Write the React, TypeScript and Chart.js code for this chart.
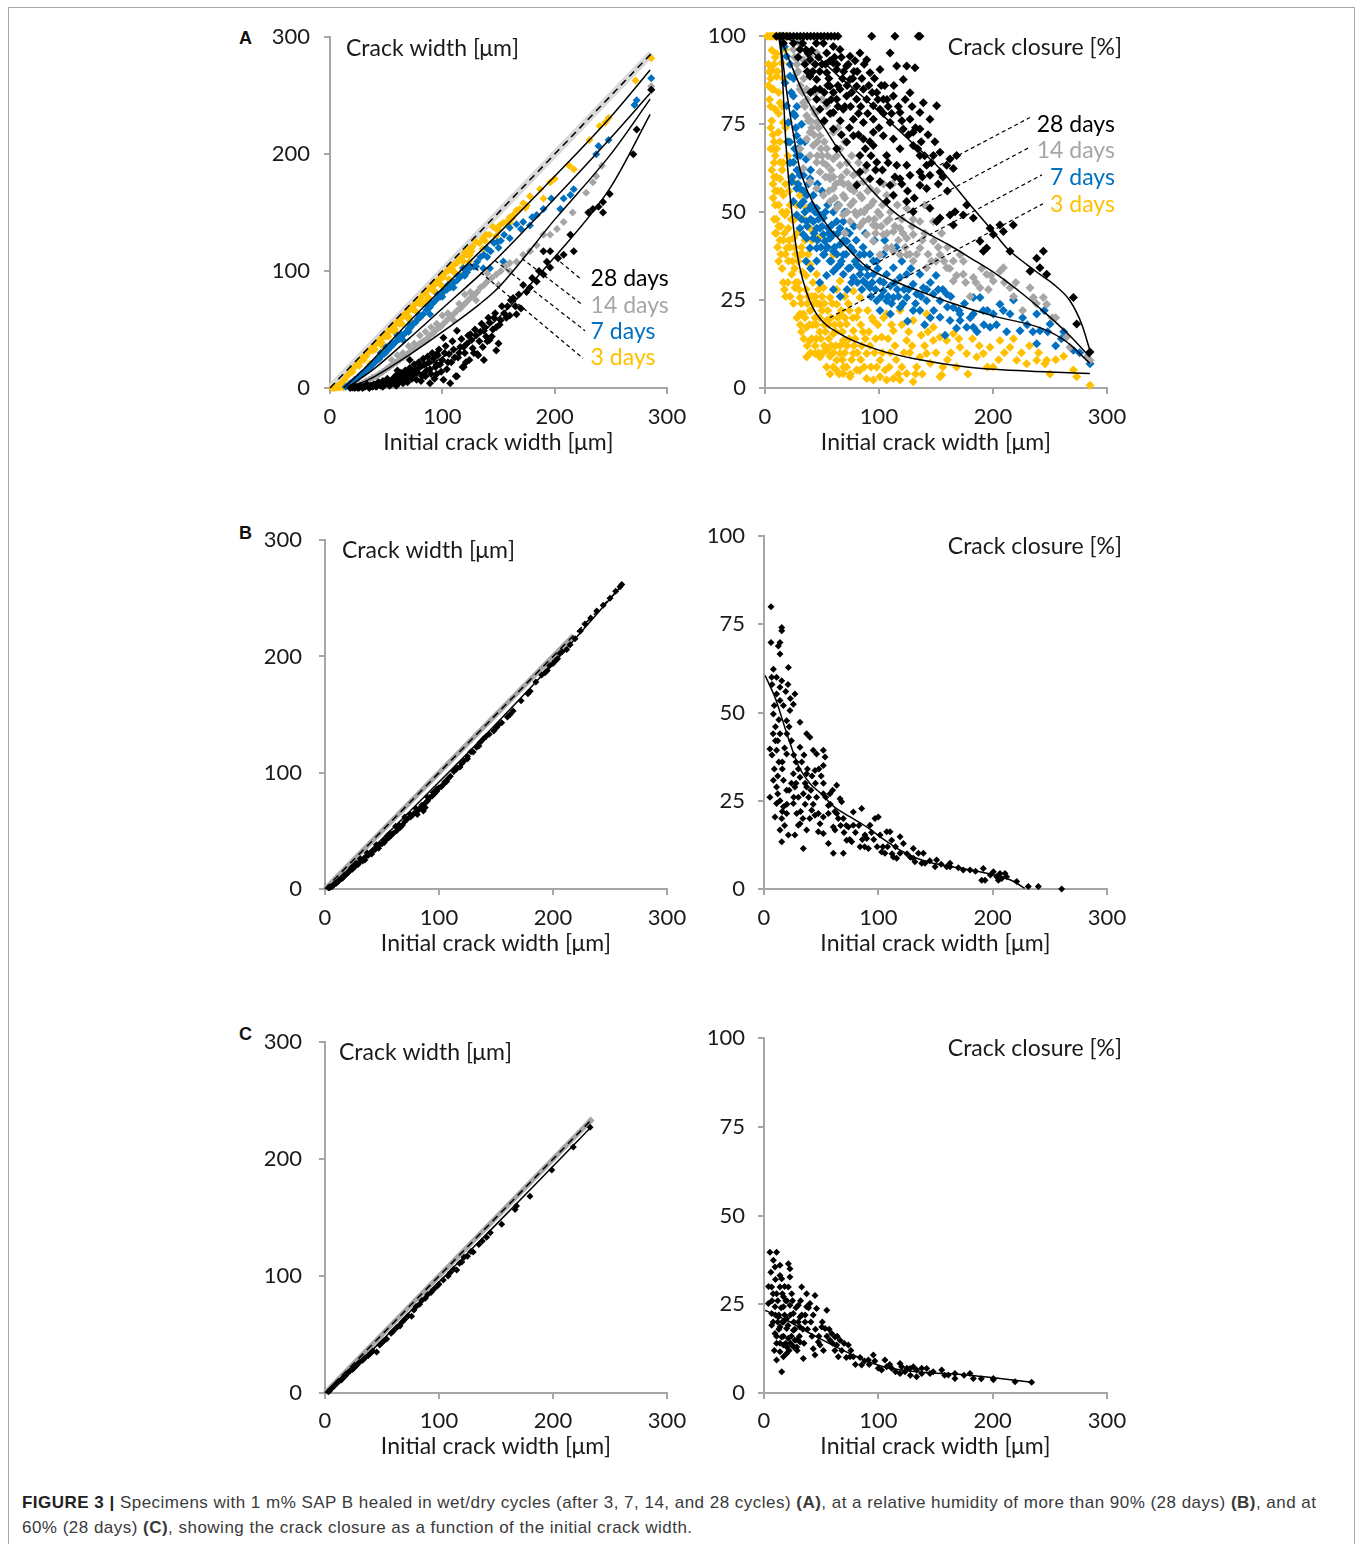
import React, { useEffect, useRef } from 'react';
import { Chart, registerables } from 'chart.js';

Chart.register(...registerables);

// ---------------- colours & fonts ----------------
const YELLOW = '#FFC000';
const BLUE = '#0070C0';
const GRAY = '#A6A6A6';
const LIGHT = '#D9D9D9';
const BLACK = '#000000';
const TEXT = '#1a1a1a';
const AXIS = '#a6a6a6';
const FONT = 'Lato, "Open Sans", sans-serif';
const TICK_SIZE = 22;
const LABEL_SIZE = 23;

// ---------------- labels ----------------
const X_TITLE = 'Initial crack width [μm]';
const WIDTH_TITLE = 'Crack width [μm]';
const CLOSURE_TITLE = 'Crack closure [%]';
const DAY_LABELS = ['28 days', '14 days', '7 days', '3 days'];
const DAY_COLORS = [BLACK, GRAY, BLUE, YELLOW];
const X_MAX = 300;
const X_STEP = 100;
const WIDTH_MAX = 300;
const WIDTH_STEP = 100;
const CLOSURE_MAX = 100;
const CLOSURE_STEP = 25;

// ---------------- Panel A: crack width (x, y pairs) ----------------
const AL_3D = [2,0, 4,0, 6,0.5, 8,0.5, 10,1, 12,0.5, 3,0.5, 5,1, 7,2, 9,3, 11,5, 13,7, 15,10, 17,12, 19,14, 21,17, 23,19, 25,21, 27,23, 29,26, 31,27, 33,30, 35,31, 37,34, 39,35, 41,38, 43,39, 45,42, 47,43, 49,46, 51,47, 53,50, 55,51, 57,54, 59,55, 61,58, 63,59, 65,62, 67,63, 69,66, 71,67, 73,69, 75,71, 77,73, 79,76, 81,77, 83,80, 85,81, 87,84, 89,85, 91,88, 93,88, 95,91, 97,92, 99,96, 101,95, 103,99, 105,100, 107,103, 109,102, 111,106, 113,107, 115,110, 118,112, 120,116, 122,114, 124,119, 127,121, 130,125, 133,124, 136,128, 139,131, 142,131, 145,138, 148,136, 151,139, 154,141, 157,142, 160,146, 163,148, 166,152, 169,153, 172,158, 175,156, 178,164, 187,170, 190,162, 196,176, 200,179, 213,190, 217,187, 231,212, 240,224, 245,227, 248,231, 272,263, 286,282, 118.7,108.2, 124.6,113.8, 103.9,85.6, 121.7,102.5, 115.7,96.9, 86.1,74.4, 71.2,57.5, 59.3,46.2, 47.5,34.9, 35.6,20.8, 20,14, 26,19, 32,27, 38,32, 44,38, 50,44, 56,49, 62,55, 68,61, 74,67, 80,72, 92,83, 98,89, 110,99, 126,117, 138,126, 150,135, 162,145, 174,154, 40,33, 52,44, 64,55, 76,66, 88,77, 100,87, 112,98, 124,108, 136,119, 148,130, 160,141, 30,24, 46,39, 58,50, 70,61, 82,72, 94,82, 106,93, 118,103];
const AL_7D = [14,1, 16,2, 18,4, 20,5, 22,7, 24,8, 26,10, 28,12, 30,13, 32,15, 34,17, 36,18, 38,20, 40,22, 42,24, 44,25, 46,28, 48,29, 50,31, 52,33, 54,35, 56,37, 58,39, 60,41, 62,42, 64,45, 66,46, 68,48, 70,51, 72,52, 74,55, 76,56, 78,59, 80,60, 83,63, 86,67, 89,69, 92,73, 95,76, 98,78, 101,82, 104,84, 107,86, 110,90, 113,92, 116,95, 119,97, 122,99, 125,103, 128,104, 131,108, 134,112, 137,114, 140,119, 143,117, 146,124, 149,125, 152,126, 155,131, 160,137, 166,140, 172,142, 178,139, 184,148, 190,153, 197,162, 205,153, 208,162, 214,165, 217,170, 237,200, 239,207, 248,212, 271,242, 273,246, 286,265, 136.5,102.5, 118.7,102.5, 142.4,102.5, 154.3,108.2, 89,63.1, 65.3,40.6, 45,30, 55,38, 63,46, 71,54, 79,62, 87,70, 96,80, 105,88, 114,96, 123,104, 50,35, 60,45, 70,48, 80,62, 90,72, 100,78, 110,86, 120,96, 130,104, 140,112, 150,120, 160,128, 170,136, 180,146];
const AL_14D = [20,1, 23,2, 26,3, 29,4, 32,6, 35,7, 38,9, 41,10, 44,12, 47,14, 50,16, 53,18, 56,20, 59,22, 62,24, 65,26, 68,28, 71,31, 74,33, 77,35, 80,38, 83,40, 86,42, 89,45, 92,47, 95,50, 98,52, 101,55, 104,58, 107,60, 110,63, 113,66, 116,68, 119,71, 122,74, 125,77, 128,79, 131,82, 134,86, 137,88, 140,91, 144,94, 148,97, 152,100, 156,104, 160,107, 166,108, 172,114, 178,117, 184,122, 190,131, 196,131, 202,136, 208,142, 216,150, 228,167, 234,176, 237,181, 242,190, 286,255, 286,258, 100,62, 110,58, 120,80, 130,75, 140,98, 150,88, 160,100, 90,52, 80,45, 70,36, 60,28, 55,24, 65,30, 75,38, 85,48, 95,55, 105,64, 115,72, 125,82];
const AL_28D = [18,0, 20,0.5, 22,0, 24,1, 26,0.5, 28,1, 30,1, 32,2, 34,1, 36,2, 38,1, 40,3, 42,2, 44,4, 46,3, 48,5, 50,4, 52,6, 54,3, 56,7, 58,5, 60,8, 62,6, 64,10, 66,7, 68,12, 70,9, 72,14, 74,11, 76,16, 78,13, 80,18, 82,10, 84,20, 86,15, 88,22, 90,12, 92,25, 94,18, 96,28, 98,20, 100,24, 102,30, 104,16, 106,29, 108,22, 110,33, 112,10, 114,26, 116,35, 118,18, 120,30, 122,38, 124,24, 126,41, 128,30, 130,45, 132,28, 134,48, 136,35, 138,52, 140,40, 142,56, 144,44, 146,60, 148,52, 150,38, 152,58, 155,64, 158,70, 160,62, 163,77, 166,63, 170,68, 172,88, 178,86, 184,91, 190,97, 196,103, 190,117, 196,117, 203,111, 208,114, 217,117, 214,131, 230,150, 234,153, 239,155, 243,159, 243,150, 249,166, 270,200, 273,221, 286,255, 107,4, 113,10, 119,18, 83,12, 89,4, 101,7, 95,12, 77,7, 65,4, 59,2, 53,2, 47,1, 60,15, 71,24, 95,29, 101,43, 119,35, 131,29, 137,24, 148,32, 125,46, 113,49, 142,41, 137,49, 21,1, 23,1, 25,0, 27,2, 29,0, 31,1, 33,3, 35,0, 37,2, 39,3, 41,1, 43,5, 45,2, 47,6, 49,3, 51,8, 53,5, 55,4, 57,9, 59,11, 61,4, 63,13, 65,9, 67,15, 69,5, 71,17, 73,8, 75,20, 77,14, 79,22, 81,6, 83,25, 85,10, 87,27, 89,16, 91,30, 93,8, 95,20, 97,33, 99,14, 103,36, 105,22, 109,40, 111,26, 115,30, 117,42, 121,22, 123,45, 127,34, 129,50, 133,40, 135,55, 139,44, 141,60, 145,50, 147,64, 151,54, 153,70, 157,60, 161,75, 165,70, 168,80, 175,82, 180,94, 186,100, 193,108];
const AL_DIAG = [0,0, 286,286];
const AL_FIT_3D = [12,0, 30,16, 50,36, 80,66, 100,85, 133.5,116.6, 150,132, 200,181, 250,232, 285,272];
const AL_FIT_7D = [15,0, 40,17, 70,42, 100,68, 133.5,97, 150,112, 200,162, 250,214, 285,252];
const AL_FIT_14D = [18,0, 40,10, 70,28, 100,48, 133.5,72, 150,86, 200,144, 250,200, 285,247];
const AL_FIT_28D = [25,0, 50,5, 80,16, 100,26, 133.5,46, 150,60, 200,112, 250,172, 285,234];
const AL_LEAD_28 = [200.3,111.5, 222.6,93.8];
const AL_LEAD_14 = [170.9,110.7, 224.1,71.6];
const AL_LEAD_7 = [146.9,109, 227,49];
const AL_LEAD_3 = [124.6,106.5, 225.2,25.4];

// ---------------- Panel A: crack closure ----------------
const AR_3D = [2,100, 4,100, 6,100, 8,100, 10,100, 12,100, 14,100, 16,100, 18,100, 20,100, 3,92, 4,90, 5,88, 6,85, 5,80, 6,76, 7,72, 7,68, 8,64, 8,60, 9,56, 9,52, 10,48, 10,44, 11,40, 12,36, 4.4,89.6, 5.8,90.5, 7.3,84.9, 8.8,79.2, 11.7,72.7, 10.2,68, 13.2,64.2, 13.2,59.5, 16.1,54.8, 17.5,49.2, 20.5,45.4, 19,39.8, 20.5,36.1, 23.4,32.3, 26.3,28.5, 30.7,25.7, 33.6,21, 36.5,17.3, 39.5,13.5, 43.9,9.8, 48.2,8.8, 36.5,8.8, 24.9,42.6, 30.7,37.9, 39.5,35.1, 45.3,32.3, 51.2,28.5, 57,25.7, 62.9,23.8, 48.2,23.8, 39.5,22, 30.7,21, 54.1,19.2, 65.8,21, 71.6,18.2, 59.9,15.4, 68.7,13.5, 77.5,16.3, 80.4,20.1, 83.3,25.7, 77.5,27.6, 65.8,30.4, 59.9,37.9, 54.1,39.8, 46.8,42.6, 39.5,45.4, 36.5,51.1, 30.7,54.8, 24.9,58.6, 21.9,64.2, 19,69.9, 16.1,75.5, 13.2,81.1, 10.2,88.6, 14.6,92.4, 17.5,96.2, 68.7,4.1, 74.6,3.2, 80.4,5.1, 89.2,2.7, 95,2.3, 100.9,3.2, 105.3,5.1, 112.6,2.7, 118.4,2.3, 124.3,4.1, 133,6, 135.9,8.8, 141.8,9.8, 147.7,13.5, 153.5,14.5, 159.4,13.5, 165.2,15.4, 171.1,11.6, 176.9,9.8, 185.7,8.8, 191.5,9.8, 197.4,11.6, 206.1,13.5, 214.9,11.6, 220.8,7.9, 229.5,6.9, 238.3,7.9, 247.1,7.9, 245.6,6.9, 270.5,5.1, 273.4,3.2, 285.1,0.8, 153.5,3.2, 155,3.7, 106.7,2.3, 130,1.8, 102.3,14.5, 95,19.2, 106.7,21, 118.4,22, 130,19.2, 141.8,21, 147.7,17.3, 112.6,16.3, 124.3,13.5, 89.2,9.8, 101,7.9, 77.5,9.8, 62.9,7.9, 54.1,10.7, 59.9,6, 71.6,6, 65.8,9.8, 15,62, 18,58, 22,52, 26,48, 28,44, 32,40, 35,42, 38,38, 42,30, 44,26, 47,28, 50,22, 52,18, 56,14, 58,20, 62,16, 66,12, 70,10, 74,14, 78,12, 84,8, 88,14, 92,12, 96,10, 98,6, 84,18, 90,22, 74,22, 70,26, 27,38, 33,33, 36,28, 41,26, 44,20, 48,16, 12,52, 14,46, 16,42, 22,40, 26,34, 29,30, 32,16, 40,10, 45,14, 52,12, 57,9, 63,5, 68,8, 75,4, 83,5, 87,6, 110,10, 115,8, 120,6, 108,14, 127,10, 138,4, 145,7, 120,18, 137,15, 160,8, 168,6, 182,14, 200,6, 210,10, 232,12, 250,4, 262,9, 34,48, 41,42, 28,52, 23,60, 20,66, 18,74, 15,80, 12,84, 16,88, 9,94, 21,56, 37,24, 6,96, 8,92, 10,95, 11,90, 12,78, 13,70, 14,56, 15,50, 16,64, 17,44, 18,38, 19,50, 20,30, 21,42, 22,26, 23,48, 24,36, 25,24, 26,40, 27,30, 28,20, 29,36, 30,28, 31,18, 32,24, 33,38, 34,14, 35,20, 36,32, 37,12, 38,26, 39,18, 40,22, 41,14, 42,18, 43,24, 44,12, 45,18, 46,24, 47,10, 48,20, 49,14, 50,26, 51,10, 52,24, 53,16, 54,6, 55,22, 56,18, 57,4, 58,12, 59,24, 60,10, 61,18, 62,12, 63,28, 64,20, 65,4, 66,18, 67,22, 68,16, 69,6, 70,20, 72,12, 73,24, 76,8, 77,20, 79,14, 81,10, 82,22, 85,12, 86,16, 91,16, 93,6, 94,20, 97,14, 99,18, 103,10, 104,20, 109,6, 111,18, 114,12, 117,4, 122,10, 126,16, 129,12, 132,4, 140,12, 143,16, 150,10, 156,6, 163,10, 170,14, 178,4, 188,12, 195,6, 205,8, 218,14, 225,10, 240,10, 255,8, 3,86, 4,82, 5,74, 5,68, 6,62, 7,58, 7,54, 8,48, 9,44, 8,70, 9,66, 10,60, 11,56, 12,46, 13,42, 14,38, 15,34, 16,30, 17,28, 18,26];
const AR_7D = [15,100, 17,97, 19,94.3, 21.9,88.6, 24.9,83, 26.3,77.4, 27.8,71.7, 30.7,66.1, 33.6,60.5, 30.7,56.7, 36.5,54.8, 39.5,51.1, 36.5,47.3, 42.4,47.3, 48.2,49.2, 45.3,45.4, 51.2,43.6, 57,42.6, 54.1,39.8, 59.9,38.9, 65.8,40.8, 71.6,41.7, 68.7,37.9, 77.5,38.9, 83.3,37.9, 80.4,35.1, 74.6,34.2, 65.8,35.1, 59.9,33.2, 89.2,34.2, 95,32.3, 100.9,30.4, 106.7,32.3, 112.6,34.2, 118.4,31.4, 124.3,32.3, 130,29.5, 135.9,32.3, 138.9,28.5, 147.7,26.7, 133,26.7, 124.3,25.7, 112.6,25.7, 106.7,24.8, 98,24.8, 100.9,22, 118.4,22.9, 130,22, 141.8,24.8, 153.5,24.8, 159.4,26.7, 165.2,22.9, 171.1,21, 182.8,21, 191.5,22, 188.6,25.7, 200.3,21, 206.1,23.8, 209.1,22, 214.9,21, 238.3,21, 241.2,16.3, 250,18.2, 270.5,10.7, 285.1,6.9, 238.3,12.6, 223.7,16.3, 182.8,17.3, 197.4,17.3, 171.1,19.2, 176.9,17.3, 162.3,19.2, 153.5,20.1, 135.9,22, 182.8,25.7, 103.8,27.6, 92.1,28.5, 86.3,30.4, 27.8,66.1, 30.7,60.5, 27.8,56.7, 33.6,53, 39.5,59.5, 42.4,54.8, 45.3,51.1, 48.2,45.4, 51.2,48.3, 55.6,45.4, 58.5,46.3, 59.9,43.6, 62.9,47.3, 65.8,45.4, 71.6,44.5, 68.7,47.3, 51.2,37.9, 45.3,39.8, 42.4,42.6, 33.6,43.6, 30.7,45.4, 27.8,49.2, 24.9,53, 23.4,58.6, 24.9,64.2, 21.9,69.9, 20.5,75.5, 19,80.2, 17.5,86.8, 52.6,41.7, 57,36.1, 62.9,34.2, 68.7,32.3, 77.5,31.4, 83.3,32.3, 89.2,29.5, 95,36.1, 45.3,36.1, 39.5,39.8, 36.5,42.6, 60,50, 55,52, 50,56, 46,58, 40,62, 36,65, 35,70, 32,75, 28,80, 25,88, 22,92, 74,44, 80,42, 86,40, 92,38, 98,36, 104,38, 110,29, 116,28, 122,28, 128,34, 145,30, 150,32, 156,28, 120,36, 115,40, 105,42, 96,42, 88,44, 78,46, 70,50, 64,52, 72,28, 66,26, 54,32, 48,30, 40,34, 36,36, 60,28, 145,20, 160,23, 175,24, 192,18, 218,25, 230,18, 245,22, 260,14, 276,10, 158,15, 168,17, 110,21, 125,19, 140,18, 262,16, 20,70, 22,64, 24,60, 26,68, 28,62, 29,58, 31,52, 32,48, 34,56, 35,50, 37,46, 38,58, 40,48, 41,52, 43,44, 44,50, 46,42, 47,48, 49,40, 50,46, 52,38, 53,50, 55,40, 56,44, 58,36, 61,40, 63,38, 64,44, 67,36, 69,42, 71,38, 73,34, 75,40, 76,30, 79,36, 81,30, 84,34, 85,28, 87,38, 90,32, 93,26, 94,30, 97,28, 99,34, 102,26, 104,30, 108,26, 111,24, 114,30, 117,26, 121,24, 126,28, 132,24, 137,26, 142,28, 148,22, 152,28, 163,26, 170,22, 180,20, 186,16, 195,22, 203,18, 212,16, 226,20, 235,16, 248,16, 255,12, 23,84, 25,78, 27,74, 29,68, 31,70];
const AR_14D = [20,100, 24.9,96.2, 30,98, 33.6,93.3, 39.5,94.3, 45.3,95.2, 27.8,89.6, 30.7,84.9, 33.6,81.1, 36.5,77.4, 39.5,72.7, 42.4,68.9, 39.5,66.1, 45.3,64.2, 48.2,61.4, 54.1,63.3, 57,59.5, 59.9,56.7, 65.8,58.6, 68.7,54.8, 74.6,56.7, 77.5,53, 83.3,54.8, 89.2,51.1, 95,53, 100.9,49.2, 106.7,47.3, 112.6,44.5, 118.4,45.4, 124.3,42.6, 130,43.6, 135.9,39.8, 124.3,37.9, 112.6,38.9, 103.8,43.6, 95,46.3, 86.3,47.3, 80.4,49.2, 74.6,47.3, 68.7,49.2, 62.9,51.1, 57,53, 51.2,54.8, 45.3,56.7, 39.5,58.6, 33.6,62.4, 30.7,68, 36.5,70.8, 45.3,75.5, 48.2,71.7, 54.1,68, 59.9,65.1, 65.8,63.3, 71.6,61.4, 77.5,60.5, 86.3,58.6, 92.1,56.7, 59.9,72.7, 51.2,75.5, 42.4,79.2, 54.1,80.2, 36.5,84.9, 39.5,89.6, 147.7,41.7, 153.5,37.9, 159.4,34.2, 165.2,36.1, 171.1,37.9, 173.9,32.3, 182.8,31.4, 188.6,28.5, 194.4,32.3, 200.3,30.4, 206.1,33.2, 209.1,34.2, 214.9,28.5, 232.5,28.5, 235.4,25.7, 247.1,23.8, 244.2,25.7, 267.5,11.6, 282.2,8.8, 285.1,7.9, 264.6,14.5, 141.8,34.2, 130,36.1, 118.4,37.9, 106.7,39.8, 95,41.7, 147.7,47.3, 135.9,47.3, 124.3,51.1, 106.7,54.8, 89.2,43.6, 100.9,37.9, 165.2,30.4, 34,88, 44,84, 50,82, 58,78, 64,74, 70,70, 76,66, 82,64, 88,62, 66,68, 72,64, 50,66, 56,60, 62,58, 46,70, 40,76, 28,92, 98,56, 104,58, 110,50, 116,52, 120,48, 130,48, 140,44, 150,36, 160,40, 176,30, 190,34, 220,30, 226,22, 252,20, 180,26, 196,28, 140,52, 155,44, 98,46, 84,50, 112,58, 70,44, 26,94, 29,90, 31,86, 33,84, 35,80, 37,82, 38,76, 41,74, 43,72, 44,78, 46,66, 47,74, 49,68, 51,64, 52,70, 53,60, 55,66, 56,56, 58,62, 60,60, 61,54, 63,66, 65,52, 67,60, 69,58, 70,54, 72,50, 73,58, 75,52, 78,56, 79,50, 81,58, 83,46, 85,54, 87,50, 90,56, 91,48, 93,52, 96,48, 97,44, 99,50, 102,46, 103,52, 107,44, 109,48, 111,40, 114,46, 117,42, 121,44, 123,40, 127,38, 129,46, 133,38, 138,42, 143,38, 146,36, 152,40, 157,36, 162,34, 168,32, 174,36, 185,30, 198,32, 210,30, 218,26, 238,24, 255,20];
const AR_28D = [10,100, 13,100, 16,100, 19,100, 22,100, 25,100, 28,100, 31,100, 34,100, 37,100, 40,100, 43,100, 46,100, 49,100, 52,100, 55,100, 58,100, 61,100, 64,100, 93.6,100, 114,100, 134.5,100, 135.9,100, 16.1,98, 51.2,98, 59.9,97.1, 54.1,95.2, 65.8,96.2, 74.6,94.3, 83.3,95.2, 89.2,93.3, 71.6,91.5, 62.9,90.5, 54.1,89.6, 45.3,87.7, 39.5,88.6, 48.2,84.9, 57,85.8, 65.8,84.9, 74.6,87.7, 80.4,85.8, 86.3,84.9, 92.1,89.6, 100.9,90.5, 109.7,95.2, 115.5,91.5, 124.3,91.5, 131.6,91, 121.3,87.7, 127.2,83.9, 112.6,83, 103.8,82.1, 95,80.2, 89.2,82.1, 80.4,82.1, 71.6,83, 62.9,82.1, 54.1,81.1, 45.3,82.1, 48.2,79.2, 59.9,78.3, 68.7,79.2, 77.5,76.4, 86.3,75.5, 95,76.4, 100.9,79.2, 109.7,75.5, 118.4,78.3, 127.2,76.4, 135.9,78.3, 138.9,81.1, 150.6,80.2, 144.7,76.4, 135.9,73.6, 130,72.7, 121.3,73.6, 112.6,70.8, 103.8,71.7, 95,72.7, 86.3,70.8, 77.5,71.7, 71.6,69.9, 62.9,68, 59.9,73.6, 83.3,66.1, 89.2,63.3, 95,68.9, 98,64.2, 106.7,66.1, 115.5,63.3, 118.4,68, 124.3,63.3, 130,68.9, 135.9,66.1, 141.8,63.3, 147.7,66.1, 153.5,67, 162.3,65.1, 168.1,66.1, 165.2,62.4, 159.4,63.3, 153.5,61.4, 144.7,60.5, 135.9,61.4, 127.2,60.5, 118.4,59.5, 109.7,57.6, 100.9,58.6, 92.1,59.5, 83.3,61.4, 80.4,57.6, 112.6,54.8, 135.9,57.6, 141.8,56.7, 150.6,47.3, 153.5,48.3, 162.3,49.2, 166.7,50.1, 165.2,46.3, 173.9,49.2, 176.9,52, 182.8,48.3, 188.6,41.7, 191.5,38.9, 194.4,39.8, 197.4,45.4, 200.3,43.6, 206.1,46.3, 209.1,44.5, 214.9,38.9, 217.8,46.3, 232.5,33.2, 238.3,36.9, 244.2,38.9, 241.2,34.2, 247.1,32.3, 270.5,25.7, 273.4,18.2, 285.1,10.2, 130,50.1, 144.7,51.1, 124.3,53, 106.7,53, 59.9,92.4, 30.7,96.2, 39.5,93.3, 24.9,98, 35,92, 42,90, 50,92, 56,88, 68,88, 78,90, 64,86, 70,80, 76,84, 84,80, 90,78, 98,84, 105,86, 52,84, 44,85, 58,82, 66,76, 74,74, 82,72, 92,70, 100,74, 108,80, 36,96, 45,98, 33,98, 38,95, 41,96, 47,94, 53,92, 57,93, 61,94, 63,92, 67,94, 69,90, 72,86, 73,92, 77,88, 79,93, 81,90, 85,88, 87,92, 91,86, 94,84, 96,88, 99,82, 102,86, 104,78, 107,82, 111,78, 113,86, 117,80, 120,76, 123,82, 126,72, 129,80, 132,74, 134,68, 137,70, 140,66, 143,72, 146,64, 149,70, 152,58, 156,60, 160,56, 64,80, 57,78, 52,76, 60,84, 67,72, 75,80, 82,78, 88,68, 93,66, 97,62, 103,62, 108,64, 114,60, 120,58, 125,56, 131,54, 138,60, 55,86, 48,90, 40,84, 44,92, 37,90, 29,94];
const AR_FIT_3D = [12,100, 14.6,93, 16.1,83.5, 17.5,74.1, 20,62, 24.9,45.9, 30,35, 36.6,27.1, 45.3,21, 65.8,15.4, 100.9,10.7, 130,8.4, 176.9,6, 230,4.8, 285,4.1];
const AR_FIT_7D = [13,100, 16,92, 20,82, 25,72, 30,63, 36,57, 45,51, 55,46, 68.7,41, 89,34.5, 112.5,30.5, 140,27, 162.3,24.3, 200,20.5, 244,16.8, 265,13, 285,7];
const AR_FIT_14D = [14,100, 18,96, 24,91, 32,85, 42,79, 54,73, 68,66, 83.3,60, 100,54, 118.4,48.7, 144.7,43.6, 162.3,40.5, 180,37, 203.2,32.3, 225,27, 247,21, 267,15, 285,8.8];
const AR_FIT_28D = [15,100, 22,99, 33.4,97.6, 50,93, 65,88.5, 83.3,83.5, 105,77, 127.2,70.3, 153.5,62.3, 170,56, 182.7,51, 200,44.5, 212,39.8, 230,35, 241.2,32.3, 255,29, 267.5,24.8, 278,18, 285,10.7];
const AR_LEAD_28 = [153.5,63.4, 232.5,76.9];
const AR_LEAD_14 = [114,47.9, 232.5,68.5];
const AR_LEAD_7 = [89.5,34.1, 243,60.6];
const AR_LEAD_3 = [57,20, 243.9,52.4];

// ---------------- Panel B ----------------
const BL_POINTS = [258.8,260, 260.3,262, 238.3,239, 228,228, 219.3,215.3, 206,202.5, 200,194, 190,184, 180,170, 162.3,150, 150.6,139, 138.9,129, 130,117.8, 118.4,105, 106.7,92.4, 98,84, 92,78.8, 86.3,67, 74.6,64, 62.9,50, 51.2,41.8, 255,256, 250,250, 244,244, 233,233, 224,222, 215,210, 212,206, 208,204, 204,198, 202,196, 197,192, 195,188, 193,186, 185,178, 178,168, 172,162, 165,153, 160,148, 155,143, 152,141, 148,136, 144,133, 141,131, 136,126, 133,122, 128,118, 125,114, 122,110, 120,108, 116,104, 113,101, 110,97, 108,95, 104,90, 102,88, 100,87, 96,82, 94,80, 90,76, 88,74, 84,70, 82,68, 80,66, 78,65, 76,63, 72,60, 70,58, 68,55, 66,53, 64,52, 60,48, 58,46, 56,44, 54,43, 52,40, 50,39, 48,38, 46,36, 44,34, 42,33, 40,31, 38,29, 36,28, 34,26, 33,24, 32,25, 30,23, 29,21, 28,22, 26,19, 25,20, 24,17, 22,16, 21,15, 20,14, 19,13, 18,12, 17,12, 16,10, 15,9, 14,9, 13,8, 12,7, 11,6, 10,5, 9,5, 8,4, 7,3, 6,2, 5,2, 4,1, 3,1, 45,38, 55,46, 65,55, 75,62, 85,72, 95,83, 105,92, 115,103, 125,112, 135,123, 57,48, 62,54, 70,62, 80,69, 90,79, 98,86, 37,31, 31,26, 27,22, 23,18, 35,25, 41,30, 47,35, 53,42, 88,70, 81,64];
const BL_INITIAL = [0,0, 218,218];
const BL_DIAG = [0,0, 262,262];
const BL_FIT = [4,0, 20,15, 50,43, 100,92, 150,142, 200,194, 262,263];

const BR_POINTS = [6.1,80, 6.1,69.9, 14,69.9, 15.5,74.1, 15.5,73.2, 14,66.6, 12.5,68.9, 21.3,62.8, 8.2,62.3, 11,60, 15.5,59, 14,57.2, 6.7,60, 11,55.3, 14,53.4, 8.2,49.6, 27,55.3, 25.7,52.4, 22.7,50.6, 19.8,47.7, 31.5,47.3, 14,44, 5.2,39.7, 11,39.3, 19.8,38.3, 31.5,40.2, 37.3,44, 40.2,43, 43.1,39.3, 46,38.3, 51.9,39.3, 53.4,37.4, 51.9,35, 44.6,33.6, 37.3,32.7, 31.5,31.7, 25.7,32.7, 17,30.8, 8.2,30.8, 11,28.9, 19.8,28, 27,28.9, 34.4,27, 37.3,28.9, 5.2,26, 11,24.2, 17,23.3, 25.7,24.2, 28.6,21.4, 31.5,18.5, 19.8,21.4, 9.6,20.4, 15.5,20, 14,16.7, 15.5,13.4, 21.3,15.3, 27,15.3, 30,18.1, 37.3,16.7, 34.4,11.5, 41.7,22.3, 44.6,20.9, 47.5,21.4, 49,18.5, 47.5,16.2, 51.9,15.7, 51.9,20.4, 56.3,23.7, 56.3,21.4, 51.9,27, 57.7,27, 63.6,29.4, 66.5,25.6, 67.9,24.7, 63.6,21.4, 60.6,17.6, 62.1,16.7, 56.3,12.9, 60.6,10.1, 69.4,10.1, 69.4,20, 73.8,17.6, 78.1,18.1, 78.1,21.8, 72.3,13.8, 76.7,13.4, 84,12, 85.4,22.8, 88.3,15.3, 89.8,14.3, 91.3,11.5, 92.7,18.1, 97.1,20, 100,20.4, 101.5,15.3, 102.9,10.5, 105.8,10.1, 107.3,16.2, 110.2,16.2, 111.7,13.8, 113.1,9.1, 116,8.7, 119,14.8, 121.9,12.9, 119,10.1, 130.6,11.5, 130.6,8.7, 132,7.7, 135,10.1, 137.9,7.3, 139.4,10.1, 140.8,7.3, 151,8.2, 149.6,6.3, 159.8,6.3, 162.7,7.3, 162.7,6.3, 174.3,5.4, 180.2,5.4, 191.8,5.8, 190.4,2.5, 193.3,2.5, 200.6,4.9, 203.5,3.5, 206.4,4.4, 205,2.5, 207.9,3, 210.8,4.4, 212.2,3.5, 221,2.1, 231.2,0.7, 240,0.7, 260.3,0, 7,58, 9,52, 10,46, 12,42, 13,36, 16,34, 18,40, 20,44, 22,46, 24,42, 26,38, 28,36, 30,34, 33,36, 35,38, 36,30, 38,34, 39,26, 41,28, 42,32, 45,30, 48,34, 50,32, 52,30, 54,26, 58,24, 60,28, 62,22, 65,20, 67,18, 70,16, 72,18, 75,14, 80,16, 83,18, 86,14, 88,12, 94,16, 96,14, 99,12, 104,12, 108,12, 112,10, 115,12, 125,10, 128,9, 145,8, 155,7, 170,6, 185,5, 198,4, 8,44, 12,27, 14,25, 16,22, 18,18, 20,24, 22,28, 24,30, 26,26, 28,30, 30,26, 32,22, 34,20, 36,24, 40,20, 43,24, 46,26, 13,48, 17,52, 19,56, 21,58, 23,54, 9,34, 7,38, 10,42, 12,32, 16,36];
const BR_FIT = [1,60.5, 10,54, 20,44, 30,35, 40,30, 50,27, 60.6,23.5, 75,20.5, 89.8,17.6, 105,14, 119,11, 133,8.8, 148,7.3, 177,5.6, 206,3.6, 218,2.2, 228,0.2];

// ---------------- Panel C ----------------
const CL_POINTS = [232.5,227.3, 217.8,210.4, 198.9,190.7, 179.8,168.3, 166.7,157, 155,144.4, 141.8,133.1, 130,120.5, 115.5,105.1, 103.8,96.7, 95,88.2, 76,65.7, 65.8,57.3, 54.1,46.1, 45.3,35, 168,160, 145,137, 138,130, 125,117, 120,112, 110,103, 100,93, 90,84, 85,79, 80,74, 70,63, 60,53, 50,43, 42,36, 38,32, 35,30, 30,26, 28,24, 25,21, 22,19, 20,17, 18,15, 15,12, 12,10, 10,8, 8,6, 6,4, 4,2, 3,1, 135,127, 128,121, 122,116, 118,111, 113,106, 108,100, 98,91, 93,86, 88,81, 83,76, 78,71, 73,66, 68,61, 63,56, 58,51, 52,45, 48,41, 40,34, 33,28, 27,23, 24,20, 17,14, 14,11];
const CL_INITIAL = [0,0, 233,233];
const CL_DIAG = [0,0, 233,233];
const CL_FIT = [3,0, 25,21, 50,45, 100,95, 150,144, 200,194, 233,227];

const CR_POINTS = [5.2,39.7, 11,39.7, 8.2,37.4, 9.6,35.5, 14,33.1, 15.5,32.2, 21.3,36.4, 22.7,35, 22.7,32.7, 21.3,29.9, 14,29.9, 6.7,29.9, 11,28, 17,27.1, 24.2,28, 32.9,29.9, 37.3,28, 44.6,27.5, 46,23.8, 40.2,25.2, 37.3,24.3, 30,24.7, 22.7,24.7, 17,24.3, 9.6,24.3, 3.8,25.2, 6.7,22.4, 12.5,21.4, 19.8,21, 25.7,22.4, 31.5,21.4, 35.9,20, 31.5,18.6, 25.7,17.7, 19.8,18.2, 14,18.6, 6.7,19.1, 9.6,16.8, 15.5,15.8, 21.3,15.4, 27,14.9, 31.5,14.4, 11,14, 17,13.5, 24.2,13.5, 28.6,13, 14,11.6, 19.8,11.1, 11,9.3, 17,10.2, 15.5,6, 34.4,9.7, 43.1,12.5, 44.6,10.7, 47.5,14.4, 49,13.5, 53.4,18.2, 54.9,23.3, 50.5,18.6, 59.2,16.8, 57.7,14.9, 62.1,15.8, 63.6,13.5, 65,10.2, 66.5,14.9, 73.8,13.5, 75.2,10.2, 78.1,10.2, 85.4,7.9, 91.3,9.3, 95.6,10.7, 102.9,6.5, 105.8,9.3, 107.3,7.4, 111.7,7, 119,8.3, 120.4,7.4, 119,5.5, 123.3,6, 127.7,6.9, 130.6,7.4, 133.5,6.5, 133.5,4.6, 137.9,5.5, 142.3,6.9, 145.2,5.5, 155.4,6.5, 161.2,5.1, 167,5.5, 167,4.1, 180.2,5.5, 183.1,4.1, 200.6,4.1, 200.6,3.7, 219.6,3.2, 234.1,3, 4,30, 6,34, 7,26, 8,28, 10,32, 12,26, 13,22, 14,36, 16,28, 16,20, 18,30, 18,22, 19,14, 20,26, 21,19, 22,12, 23,22, 24,16, 25,26, 26,20, 27,18, 28,24, 29,12, 30,20, 31,16, 32,26, 33,22, 34,18, 35,14, 36,22, 38,18, 39,24, 41,20, 42,16, 43,22, 45,18, 48,16, 51,20, 52,12, 55,16, 57,18, 60,14, 62,12, 64,16, 68,12, 70,14, 72,10, 76,12, 80,8, 84,10, 88,9, 92,8, 97,9, 100,7, 110,8, 115,6, 125,7, 128,5, 138,7, 148,6, 158,5, 175,5, 190,4, 9,12, 11,16, 13,18, 15,24, 17,20, 19,26, 8,20, 10,22, 12,20, 14,14, 17,16, 20,13, 23,14, 26,13, 29,15];
const CR_FIT = [1,23.3, 19.8,20.5, 46,15.8, 75.2,11.1, 104.4,7.4, 133.5,6, 177.3,5.1, 206.4,4.1, 234.1,3];

// ---------------- helpers ----------------
function toPts(flat: number[]) {
  const out: { x: number; y: number }[] = [];
  for (let i = 0; i + 1 < flat.length; i += 2) out.push({ x: flat[i], y: flat[i + 1] });
  return out;
}

function scatter(flat: number[], color: string, radius: number, order: number) {
  return {
    type: 'scatter',
    data: toPts(flat),
    pointStyle: 'rectRot',
    pointRadius: radius,
    pointHoverRadius: radius,
    backgroundColor: color,
    borderColor: color,
    borderWidth: 0,
    clip: false,
    order,
  };
}

function line(flat: number[], color: string, width: number, dash: number[], order: number, smooth = true) {
  return {
    type: 'line',
    data: toPts(flat),
    borderColor: color,
    backgroundColor: color,
    borderWidth: width,
    borderDash: dash,
    pointRadius: 0,
    fill: false,
    showLine: true,
    cubicInterpolationMode: smooth ? 'monotone' : 'default',
    tension: 0,
    clip: false,
    order,
  };
}

type TextItem = { text: string; x: number; y: number; color: string; align: CanvasTextAlign; anchor: 'data' | 'left' | 'right' };

function textPlugin(items: TextItem[]) {
  return {
    id: 'panelTexts',
    afterDatasetsDraw(chart: any) {
      const { ctx, chartArea, scales } = chart;
      ctx.save();
      ctx.font = `${LABEL_SIZE}px ${FONT}`;
      ctx.textBaseline = 'alphabetic';
      for (const it of items) {
        let px: number;
        let py: number;
        if (it.anchor === 'data') {
          px = scales.x.getPixelForValue(it.x);
          py = scales.y.getPixelForValue(it.y);
        } else if (it.anchor === 'left') {
          px = chartArea.left + it.x;
          py = chartArea.top + it.y;
        } else {
          px = chartArea.right + it.x;
          py = chartArea.top + it.y;
        }
        ctx.fillStyle = it.color;
        ctx.textAlign = it.align;
        ctx.fillText(it.text, px, py);
      }
      ctx.restore();
    },
  };
}

type Spec = {
  left: number; top: number; w: number; h: number;
  plot: { l: number; t: number; r: number; b: number };
  yMax: number; yStep: number;
  yTickPad: number; xTickPad: number; xTitlePad: number;
  datasets: any[]; texts: TextItem[];
};

function makeConfig(s: Spec) {
  const yWidth = s.plot.l - s.left;
  const xHeight = s.top + s.h - s.plot.b;
  const tickFont = { family: FONT, size: TICK_SIZE };
  const titleFont = { family: FONT, size: LABEL_SIZE };
  const grid = { drawOnChartArea: false, drawTicks: true, tickLength: 6, color: AXIS, lineWidth: 2 };
  const border = { display: true, color: AXIS, width: 2 };
  return {
    type: 'scatter',
    data: { datasets: s.datasets },
    options: {
      animation: false,
      responsive: false,
      devicePixelRatio: 1,
      events: [],
      layout: { padding: { left: 0, top: s.plot.t - s.top, right: s.left + s.w - s.plot.r, bottom: 0 } },
      plugins: { legend: { display: false }, tooltip: { enabled: false }, title: { display: false } },
      scales: {
        x: {
          type: 'linear', position: 'bottom', min: 0, max: X_MAX,
          ticks: { stepSize: X_STEP, color: TEXT, font: tickFont, padding: s.xTickPad, maxRotation: 0, autoSkip: false },
          grid, border,
          title: { display: true, text: X_TITLE, color: TEXT, font: titleFont, padding: { top: 0, bottom: s.xTitlePad } },
          afterFit: (sc: any) => { sc.height = xHeight; },
        },
        y: {
          type: 'linear', position: 'left', min: 0, max: s.yMax,
          ticks: { stepSize: s.yStep, color: TEXT, font: tickFont, padding: s.yTickPad, autoSkip: false },
          grid, border,
          afterFit: (sc: any) => { sc.width = yWidth; },
        },
      },
    },
    plugins: [textPlugin(s.texts)],
  };
}

function Panel({ spec }: { spec: Spec }) {
  const ref = useRef<HTMLCanvasElement | null>(null);
  useEffect(() => {
    if (!ref.current) return;
    const chart = new Chart(ref.current, makeConfig(spec) as any);
    return () => chart.destroy();
  }, []);
  return (
    <canvas
      ref={ref}
      width={spec.w}
      height={spec.h}
      style={{ position: 'absolute', left: spec.left, top: spec.top, width: spec.w, height: spec.h }}
    />
  );
}

// ---------------- panel specs ----------------
const LEADER_DASH = [4, 3];

const panelALeft: Spec = {
  left: 230, top: 10, w: 470, h: 460,
  plot: { l: 330, t: 33, r: 667, b: 388 },
  yMax: WIDTH_MAX, yStep: WIDTH_STEP, yTickPad: 14, xTickPad: 9.5, xTitlePad: 14,
  datasets: [
    line(AL_DIAG, LIGHT, 7, [], 20, false),
    scatter(AL_3D, YELLOW, 4, 14),
    scatter(AL_7D, BLUE, 4, 13),
    scatter(AL_14D, GRAY, 4, 12),
    scatter(AL_28D, BLACK, 4, 11),
    line(AL_DIAG, BLACK, 1.5, [7, 5], 1, false),
    line(AL_FIT_3D, BLACK, 1.5, [], 2),
    line(AL_FIT_7D, BLACK, 1.5, [], 2),
    line(AL_FIT_14D, BLACK, 1.5, [], 2),
    line(AL_FIT_28D, BLACK, 1.5, [], 2),
    line(AL_LEAD_28, BLACK, 1.2, LEADER_DASH, 1, false),
    line(AL_LEAD_14, BLACK, 1.2, LEADER_DASH, 1, false),
    line(AL_LEAD_7, BLACK, 1.2, LEADER_DASH, 1, false),
    line(AL_LEAD_3, BLACK, 1.2, LEADER_DASH, 1, false),
  ],
  texts: [
    { text: WIDTH_TITLE, x: 16, y: 18.5, color: TEXT, align: 'left', anchor: 'left' },
    { text: DAY_LABELS[0], x: 232, y: 87, color: DAY_COLORS[0], align: 'left', anchor: 'data' },
    { text: DAY_LABELS[1], x: 232, y: 64.5, color: DAY_COLORS[1], align: 'left', anchor: 'data' },
    { text: DAY_LABELS[2], x: 232, y: 42, color: DAY_COLORS[2], align: 'left', anchor: 'data' },
    { text: DAY_LABELS[3], x: 232, y: 19.4, color: DAY_COLORS[3], align: 'left', anchor: 'data' },
  ],
};

const panelARight: Spec = {
  left: 700, top: 10, w: 440, h: 460,
  plot: { l: 765, t: 33, r: 1107, b: 388 },
  yMax: CLOSURE_MAX, yStep: CLOSURE_STEP, yTickPad: 13, xTickPad: 9.5, xTitlePad: 14,
  datasets: [
    scatter(AR_3D, YELLOW, 4.5, 14),
    scatter(AR_7D, BLUE, 4.5, 13),
    scatter(AR_14D, GRAY, 4.5, 12),
    scatter(AR_28D, BLACK, 4.5, 11),
    line(AR_FIT_3D, BLACK, 1.5, [], 2),
    line(AR_FIT_7D, BLACK, 1.5, [], 2),
    line(AR_FIT_14D, BLACK, 1.5, [], 2),
    line(AR_FIT_28D, BLACK, 1.5, [], 2),
    line(AR_LEAD_28, BLACK, 1.2, LEADER_DASH, 1, false),
    line(AR_LEAD_14, BLACK, 1.2, LEADER_DASH, 1, false),
    line(AR_LEAD_7, BLACK, 1.2, LEADER_DASH, 1, false),
    line(AR_LEAD_3, BLACK, 1.2, LEADER_DASH, 1, false),
  ],
  texts: [
    { text: CLOSURE_TITLE, x: 15, y: 18.5, color: TEXT, align: 'right', anchor: 'right' },
    { text: DAY_LABELS[0], x: 307, y: 72.9, color: DAY_COLORS[0], align: 'right', anchor: 'data' },
    { text: DAY_LABELS[1], x: 307, y: 65.4, color: DAY_COLORS[1], align: 'right', anchor: 'data' },
    { text: DAY_LABELS[2], x: 307, y: 57.7, color: DAY_COLORS[2], align: 'right', anchor: 'data' },
    { text: DAY_LABELS[3], x: 307, y: 50.1, color: DAY_COLORS[3], align: 'right', anchor: 'data' },
  ],
};

const panelBLeft: Spec = {
  left: 230, top: 510, w: 470, h: 460,
  plot: { l: 325, t: 535, r: 667, b: 889 },
  yMax: WIDTH_MAX, yStep: WIDTH_STEP, yTickPad: 17, xTickPad: 9.5, xTitlePad: 13,
  datasets: [
    line(BL_INITIAL, GRAY, 5, [], 20, false),
    scatter(BL_POINTS, BLACK, 3.5, 11),
    line(BL_DIAG, BLACK, 1.5, [7, 5], 1, false),
    line(BL_FIT, BLACK, 1.5, [], 2),
  ],
  texts: [{ text: WIDTH_TITLE, x: 17, y: 17.5, color: TEXT, align: 'left', anchor: 'left' }],
};

const panelBRight: Spec = {
  left: 700, top: 510, w: 440, h: 460,
  plot: { l: 764, t: 535, r: 1107, b: 889 },
  yMax: CLOSURE_MAX, yStep: CLOSURE_STEP, yTickPad: 13, xTickPad: 9.5, xTitlePad: 13,
  datasets: [
    scatter(BR_POINTS, BLACK, 3.5, 11),
    line(BR_FIT, BLACK, 1.5, [], 2),
  ],
  texts: [{ text: CLOSURE_TITLE, x: 15, y: 17.5, color: TEXT, align: 'right', anchor: 'right' }],
};

const panelCLeft: Spec = {
  left: 230, top: 1012, w: 470, h: 460,
  plot: { l: 325, t: 1037, r: 667, b: 1393 },
  yMax: WIDTH_MAX, yStep: WIDTH_STEP, yTickPad: 17, xTickPad: 8.5, xTitlePad: 12,
  datasets: [
    line(CL_INITIAL, GRAY, 5, [], 20, false),
    scatter(CL_INITIAL.slice(2), GRAY, 4, 19),
    scatter(CL_POINTS, BLACK, 3.5, 11),
    line(CL_DIAG, BLACK, 1.5, [7, 5], 1, false),
    line(CL_FIT, BLACK, 1.5, [], 2),
  ],
  texts: [{ text: WIDTH_TITLE, x: 14, y: 18, color: TEXT, align: 'left', anchor: 'left' }],
};

const panelCRight: Spec = {
  left: 700, top: 1012, w: 440, h: 460,
  plot: { l: 764, t: 1037, r: 1107, b: 1393 },
  yMax: CLOSURE_MAX, yStep: CLOSURE_STEP, yTickPad: 13, xTickPad: 8.5, xTitlePad: 12,
  datasets: [
    scatter(CR_POINTS, BLACK, 3.5, 11),
    line(CR_FIT, BLACK, 1.5, [], 2),
  ],
  texts: [{ text: CLOSURE_TITLE, x: 15, y: 17.5, color: TEXT, align: 'right', anchor: 'right' }],
};

const PANELS = [panelALeft, panelARight, panelBLeft, panelBRight, panelCLeft, panelCRight];
const PANEL_LETTERS = [
  { letter: 'A', top: 27 },
  { letter: 'B', top: 522 },
  { letter: 'C', top: 1023 },
];

export default function App() {
  return (
    <div style={{ position: 'absolute', left: 0, top: 0, width: 1360, height: 1544, overflow: 'hidden', background: '#ffffff' }}>
      <div style={{ position: 'absolute', left: 8, top: 7, width: 1347, height: 1600, border: '1px solid #a8a8a8', boxSizing: 'border-box' }} />
      {PANEL_LETTERS.map((p) => (
        <div
          key={p.letter}
          style={{ position: 'absolute', left: 239, top: p.top, font: 'bold 18px "Liberation Sans", Arial, sans-serif', color: '#111', lineHeight: '22px' }}
        >
          {p.letter}
        </div>
      ))}
      {PANELS.map((s, i) => (
        <Panel key={i} spec={s} />
      ))}
      <div
        style={{
          position: 'absolute', left: 22, top: 1490, width: 1330,
          font: '17px "Liberation Sans", Arial, sans-serif', letterSpacing: '0.48px', lineHeight: '25px', color: '#3a3a3a', whiteSpace: 'nowrap',
        }}
      >
        <div>
          <b style={{ color: '#222' }}>FIGURE 3 |</b> Specimens with 1 m% SAP B healed in wet/dry cycles (after 3, 7, 14, and 28 cycles) <b>(A)</b>, at a relative humidity of more than 90% (28 days) <b>(B)</b>, and at
        </div>
        <div>
          60% (28 days) <b>(C)</b>, showing the crack closure as a function of the initial crack width.
        </div>
      </div>
    </div>
  );
}
